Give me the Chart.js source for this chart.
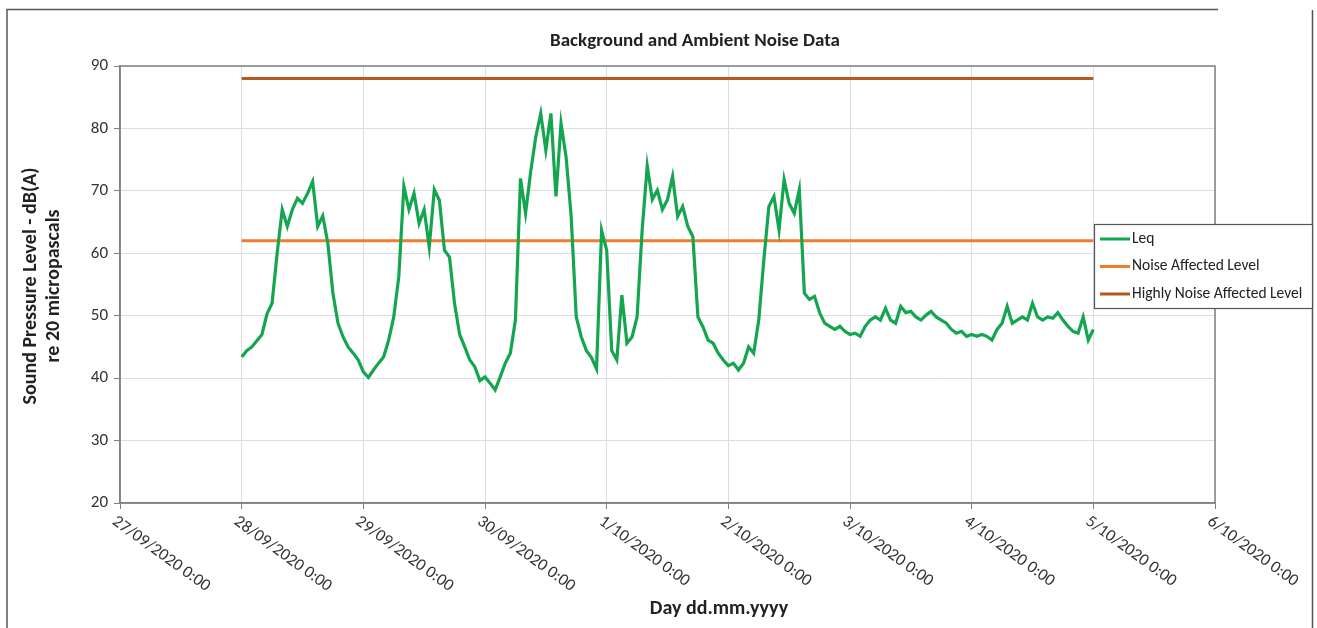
<!DOCTYPE html>
<html>
<head>
<meta charset="utf-8">
<title>Background and Ambient Noise Data</title>
<script src="https://cdn.jsdelivr.net/npm/chart.js@4.4.1/dist/chart.umd.min.js"></script>
<style>
  html, body { margin: 0; padding: 0; background: #fff; }
  #wrap { width: 1317px; height: 628px; }
</style>
</head>
<body>
<div id="wrap"><canvas id="noiseChart" width="1317" height="628"></canvas></div>
<script>
// x axis: hours since 27/09/2020 0:00, one tick per day
const dayLabels = ['27/09/2020 0:00', '28/09/2020 0:00', '29/09/2020 0:00', '30/09/2020 0:00',
  '1/10/2020 0:00', '2/10/2020 0:00', '3/10/2020 0:00', '4/10/2020 0:00', '5/10/2020 0:00', '6/10/2020 0:00'];
const yTicks = [20, 30, 40, 50, 60, 70, 80, 90];

// Leq readings, hourly, starting 28/09/2020 0:00 (hour 24)
const leqStartHour = 24;
const leqDay1 = [43.4, 44.4, 45, 46, 47, 50.3, 52, 60, 67, 64.3, 67, 68.8, 68, 69.6, 71.5, 64.3, 66, 61.6, 53.6, 48.8, 46.6, 45, 44, 42.9];
const leqDay2 = [41, 40.1, 41.3, 42.4, 43.4, 46.1, 49.8, 56.3, 70.7, 67, 69.6, 64.8, 67, 61, 70.2, 68.5, 60.5, 59.4, 51.9, 47, 45, 42.9, 41.8, 39.6];
const leqDay3 = [40.2, 39.2, 38.1, 40.2, 42.4, 44, 49.3, 72, 66.4, 73, 78.6, 82.4, 76.5, 82.4, 69.1, 80.8, 75.4, 65.9, 49.8, 46.6, 44.4, 43.3, 41.5, 63.7];
const leqDay4 = [60.5, 44.4, 42.9, 53.3, 45.6, 46.6, 49.8, 63.7, 74, 68.6, 70.1, 67, 68.6, 72.3, 65.9, 67.5, 64.3, 62.7, 49.8, 48.2, 46.1, 45.6, 44, 42.9];
const leqDay5 = [42, 42.4, 41.3, 42.4, 45, 44, 49.3, 58.9, 67.5, 69.1, 63.7, 71.8, 68, 66.4, 70.2, 53.6, 52.6, 53.1, 50.5, 48.8, 48.3, 47.8, 48.3, 47.5];
const leqDay6 = [47, 47.2, 46.7, 48.3, 49.3, 49.8, 49.3, 51.2, 49.3, 48.8, 51.5, 50.5, 50.7, 49.8, 49.3, 50.1, 50.7, 49.8, 49.3, 48.8, 47.8, 47.2, 47.5, 46.7];
const leqDay7 = [47, 46.7, 47, 46.7, 46.1, 47.8, 48.8, 51.5, 48.8, 49.3, 49.8, 49.3, 52, 49.8, 49.3, 49.8, 49.6, 50.5, 49.3, 48.3, 47.5, 47.2, 49.8, 46.1, 47.8];

// criteria lines, 28/09 0:00 to 5/10 0:00
const criteriaHours = [24, 192];
const noiseAffectedLevel = 62;
const highlyNoiseAffectedLevel = 88;

const chartTitle = 'Background and Ambient Noise Data';
const xTitle = 'Day dd.mm.yyyy';
const yTitle = ['Sound Pressure Level - dB(A)', 're 20 micropascals'];

const FONT = 'Carlito, Calibri, Lato, sans-serif';

const leqValues = [].concat(leqDay1, leqDay2, leqDay3, leqDay4, leqDay5, leqDay6, leqDay7);
const leqPoints = leqValues.map((v, i) => ({x: leqStartHour + i, y: v}));

const decor = {
  id: 'decor',
  beforeDatasetsDraw(chart) {
    const ctx = chart.ctx, a = chart.chartArea;
    ctx.save();
    ctx.strokeStyle = '#808080';
    ctx.lineWidth = 1.5;
    ctx.strokeRect(a.left, a.top, a.right - a.left, a.bottom - a.top);
    ctx.restore();
  },
  afterDraw(chart) {
    const ctx = chart.ctx;
    const xs = chart.scales.x;
    ctx.save();

    // outer frame (scanned figure border)
    ctx.strokeStyle = '#555';
    ctx.lineWidth = 1.5;
    ctx.beginPath();
    ctx.moveTo(7, 628); ctx.lineTo(7, 9.5); ctx.lineTo(1218, 9.5);
    ctx.moveTo(1312.5, 10); ctx.lineTo(1312.5, 628);
    ctx.stroke();

    // titles
    ctx.fillStyle = '#222';
    ctx.textAlign = 'center';
    ctx.textBaseline = 'middle';
    ctx.font = 'bold 19px ' + FONT;
    ctx.fillText(chartTitle, 695, 41);
    ctx.font = 'bold 20px ' + FONT;
    ctx.fillText(xTitle, 719, 609);
    ctx.font = 'bold 20px ' + FONT;
    [31, 54].forEach((tx, i) => {
      ctx.save();
      ctx.translate(tx, 286);
      ctx.rotate(-Math.PI / 2);
      ctx.fillText(yTitle[i], 0, 0);
      ctx.restore();
    });

    // rotated day labels
    ctx.fillStyle = '#333';
    ctx.font = '17px ' + FONT;
    ctx.textAlign = 'left';
    ctx.textBaseline = 'top';
    xs.ticks.forEach((t, i) => {
      const px = xs.getPixelForValue(t.value);
      ctx.save();
      ctx.translate(px - 1, 513);
      ctx.rotate(36 * Math.PI / 180);
      ctx.fillText(dayLabels[i], 0, 0);
      ctx.restore();
    });

    // legend
    ctx.fillStyle = '#fff';
    ctx.fillRect(1094, 224, 218, 84);
    ctx.strokeStyle = '#555';
    ctx.lineWidth = 1.2;
    ctx.strokeRect(1094.5, 224.5, 218, 84);
    ctx.font = '15.5px ' + FONT;
    ctx.textBaseline = 'middle';
    chart.data.datasets.forEach((ds, i) => {
      const ly = 239 + i * 27.5;
      ctx.strokeStyle = ds.borderColor;
      ctx.lineWidth = 3;
      ctx.beginPath();
      ctx.moveTo(1100, ly); ctx.lineTo(1130, ly);
      ctx.stroke();
      ctx.fillStyle = '#222';
      ctx.fillText(ds.label, 1132, ly);
    });
    ctx.restore();
  }
};

new Chart(document.getElementById('noiseChart'), {
  type: 'line',
  data: {
    datasets: [
      {
        label: 'Leq',
        data: leqPoints,
        borderColor: '#14a64f',
        borderWidth: 3.2,
        pointRadius: 0,
        tension: 0
      },
      {
        label: 'Noise Affected Level',
        data: criteriaHours.map(h => ({x: h, y: noiseAffectedLevel})),
        borderColor: '#ed7d31',
        borderWidth: 3,
        pointRadius: 0
      },
      {
        label: 'Highly Noise Affected Level',
        data: criteriaHours.map(h => ({x: h, y: highlyNoiseAffectedLevel})),
        borderColor: '#b4591f',
        borderWidth: 3,
        pointRadius: 0
      }
    ]
  },
  options: {
    responsive: false,
    animation: false,
    layout: {padding: {left: 0, top: 66, right: 102, bottom: 0}},
    plugins: {legend: {display: false}, tooltip: {enabled: false}, title: {display: false}},
    scales: {
      x: {
        type: 'linear',
        min: 0,
        max: (dayLabels.length - 1) * 24,
        ticks: {stepSize: 24, display: false},
        grid: {color: '#dcdce6', tickColor: '#808080', tickLength: 6},
        border: {color: '#808080', width: 1.5},
        afterFit(s) { s.height = 125; }
      },
      y: {
        min: yTicks[0],
        max: yTicks[yTicks.length - 1],
        ticks: {stepSize: 10, color: '#333', padding: 6, font: {size: 17, family: FONT}},
        grid: {color: '#dcdce6', tickColor: '#808080', tickLength: 6},
        border: {color: '#808080', width: 1.5},
        afterFit(s) { s.width = 120; }
      }
    }
  },
  plugins: [decor]
});
</script>
</body>
</html>
